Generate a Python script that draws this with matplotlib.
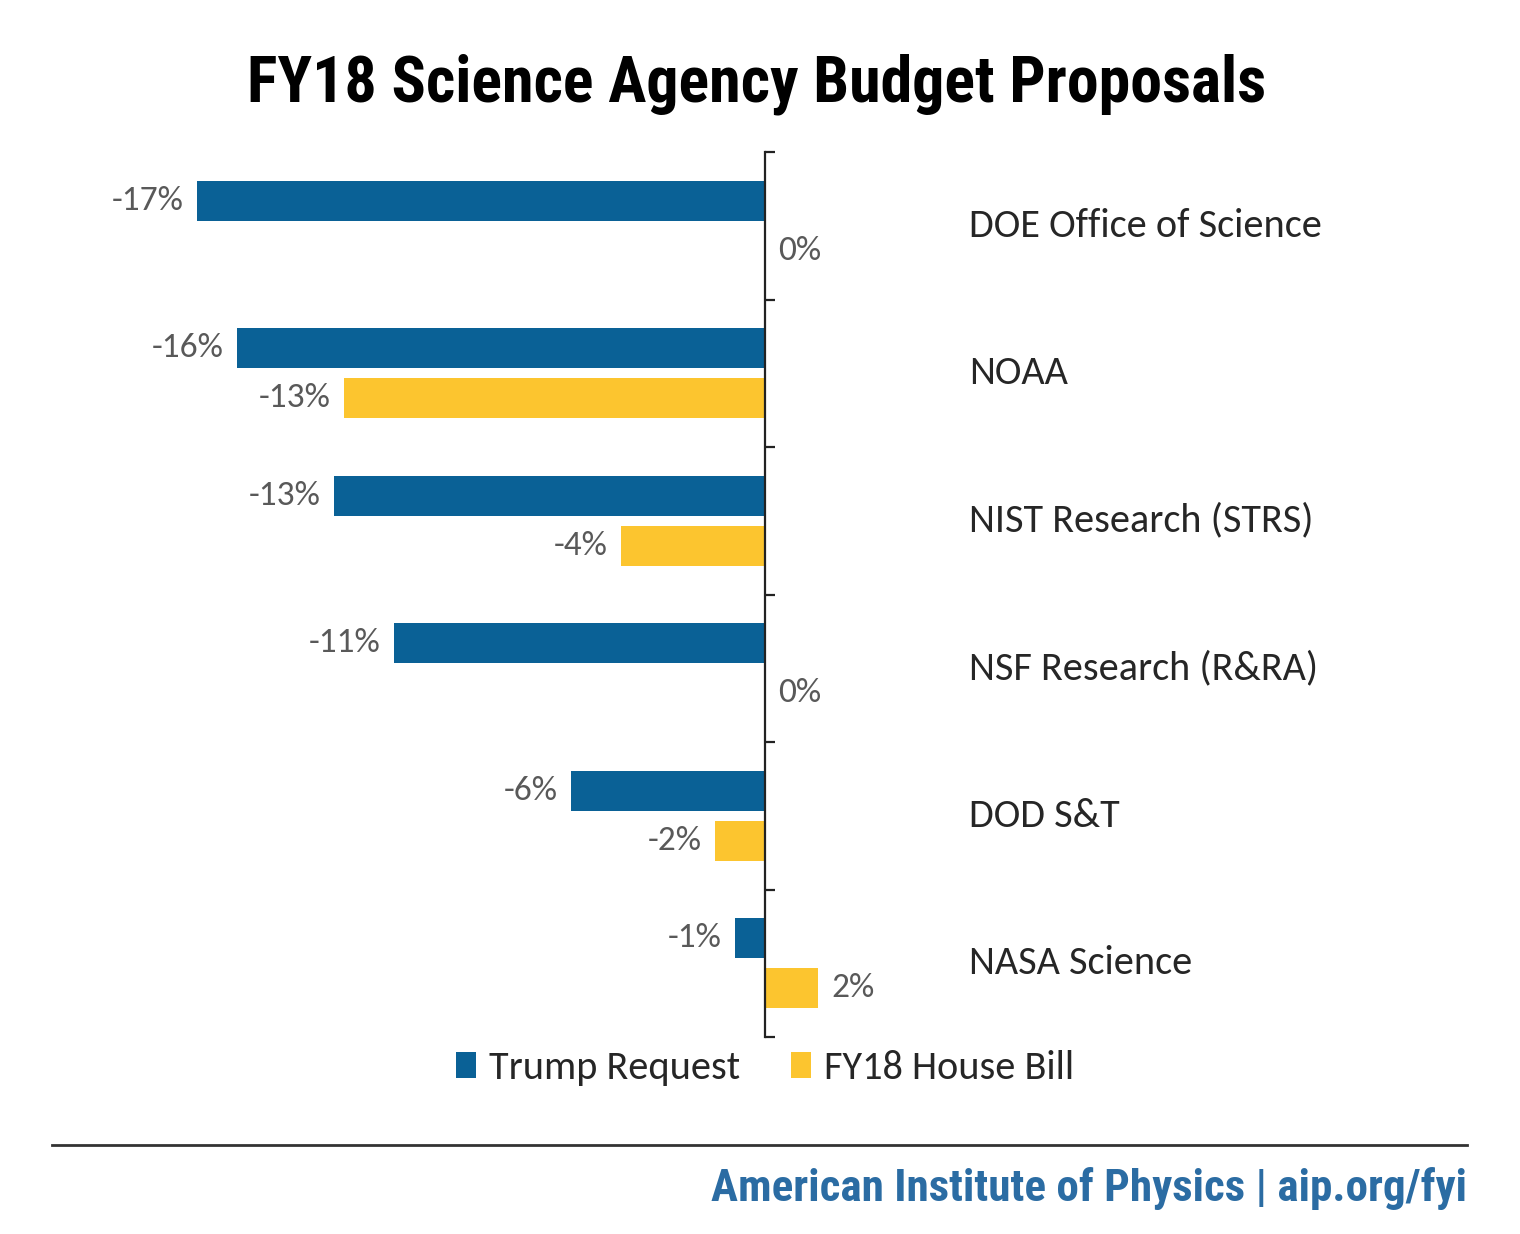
import matplotlib
matplotlib.use('Agg')
import matplotlib.pyplot as plt
import numpy as np

# ---- data ----
agencies = ['DOE Office of Science', 'NOAA', 'NIST Research (STRS)',
            'NSF Research (R&RA)', 'DOD S&T', 'NASA Science']
trump_request = [-17.0, -15.8, -12.9, -11.1, -5.8, -0.9]
house_bill = [0.0, -12.6, -4.3, 0.0, -1.5, 1.6]
series_names = ['Trump Request', 'FY18 House Bill']

BLUE = '#0a6196'
YELLOW = '#fcc52f'
LABEL_GRAY = '#595959'
TEXT_DARK = '#262626'
BODY_FONT = ['Carlito', 'Lato', 'DejaVu Sans']
COND_FONT = ['Roboto Condensed', 'PT Sans Narrow', 'DejaVu Sans']

fig = plt.figure(figsize=(15.2, 12.34), dpi=100)
W, H = 1520, 1234

# axes placed so that 0 sits at x=765 px and categories span y=152..1037 px
px_per_pct = 33.4
xmin, xmax = -22, 22
ax_left = 765 - (-xmin) * px_per_pct
ax = fig.add_axes([ax_left / W, (H - 1037) / H, (xmax - xmin) * px_per_pct / W, (1037 - 152) / H])

y = np.arange(len(agencies))
bar_h = 0.27
off = 0.17
ax.barh(y - off, trump_request, height=bar_h, color=BLUE, label=series_names[0])
ax.barh(y + off, house_bill, height=bar_h, color=YELLOW, label=series_names[1])

ax.set_xlim(xmin, xmax)
ax.set_ylim(len(agencies) - 0.5, -0.5)

for s in ['top', 'right', 'bottom']:
    ax.spines[s].set_visible(False)
ax.spines['left'].set_position(('data', 0))
ax.spines['left'].set_color('#222222')
ax.spines['left'].set_linewidth(1.6)
ax.set_xticks([])
ax.set_yticks(np.arange(len(agencies) + 1) - 0.5)
ax.tick_params(axis='y', direction='in', length=7, width=1.6, color='#222222', labelleft=False)

# data labels
pad = 0.4
for vals, offs in [(trump_request, -off), (house_bill, off)]:
    for i, v in enumerate(vals):
        txt = f'{v:.0f}%'
        if v < 0:
            ax.text(v - pad, i + offs, txt, ha='right', va='center',
                    fontsize=25.5, color=LABEL_GRAY, family=BODY_FONT)
        else:
            ax.text(v + pad, i + offs, txt, ha='left', va='center',
                    fontsize=25.5, color=LABEL_GRAY, family=BODY_FONT)

# category names on the right
for i, name in enumerate(agencies):
    ax.text(6.1, i, name, ha='left', va='center', fontsize=29,
            color=TEXT_DARK, family=BODY_FONT)

# legend
leg = fig.legend(loc='center', bbox_to_anchor=(765 / W, 1 - 1068 / H), ncol=2,
                 frameon=False, handlelength=0.5, handleheight=0.6, handletextpad=0.32,
                 columnspacing=1.25, prop={'family': BODY_FONT, 'size': 29})
for t in leg.get_texts():
    t.set_color(TEXT_DARK)

# title
fig.text(757 / W, 1 - 84 / H, 'FY18 Science Agency Budget Proposals', ha='center', va='center',
         fontsize=46, fontweight='semibold', color='black', family=COND_FONT)

# footer rule and credit
fig.add_artist(plt.Line2D([52 / W, 1467 / W], [1 - 1145 / H, 1 - 1145 / H],
                          color='#333333', linewidth=2))
fig.text(1467 / W, 1 - 1188 / H, 'American Institute of Physics | aip.org/fyi', ha='right', va='center',
         fontsize=32.5, fontweight='semibold', color='#2b6ca3', family=COND_FONT)

fig.savefig('out.png', dpi=100, facecolor='white')
